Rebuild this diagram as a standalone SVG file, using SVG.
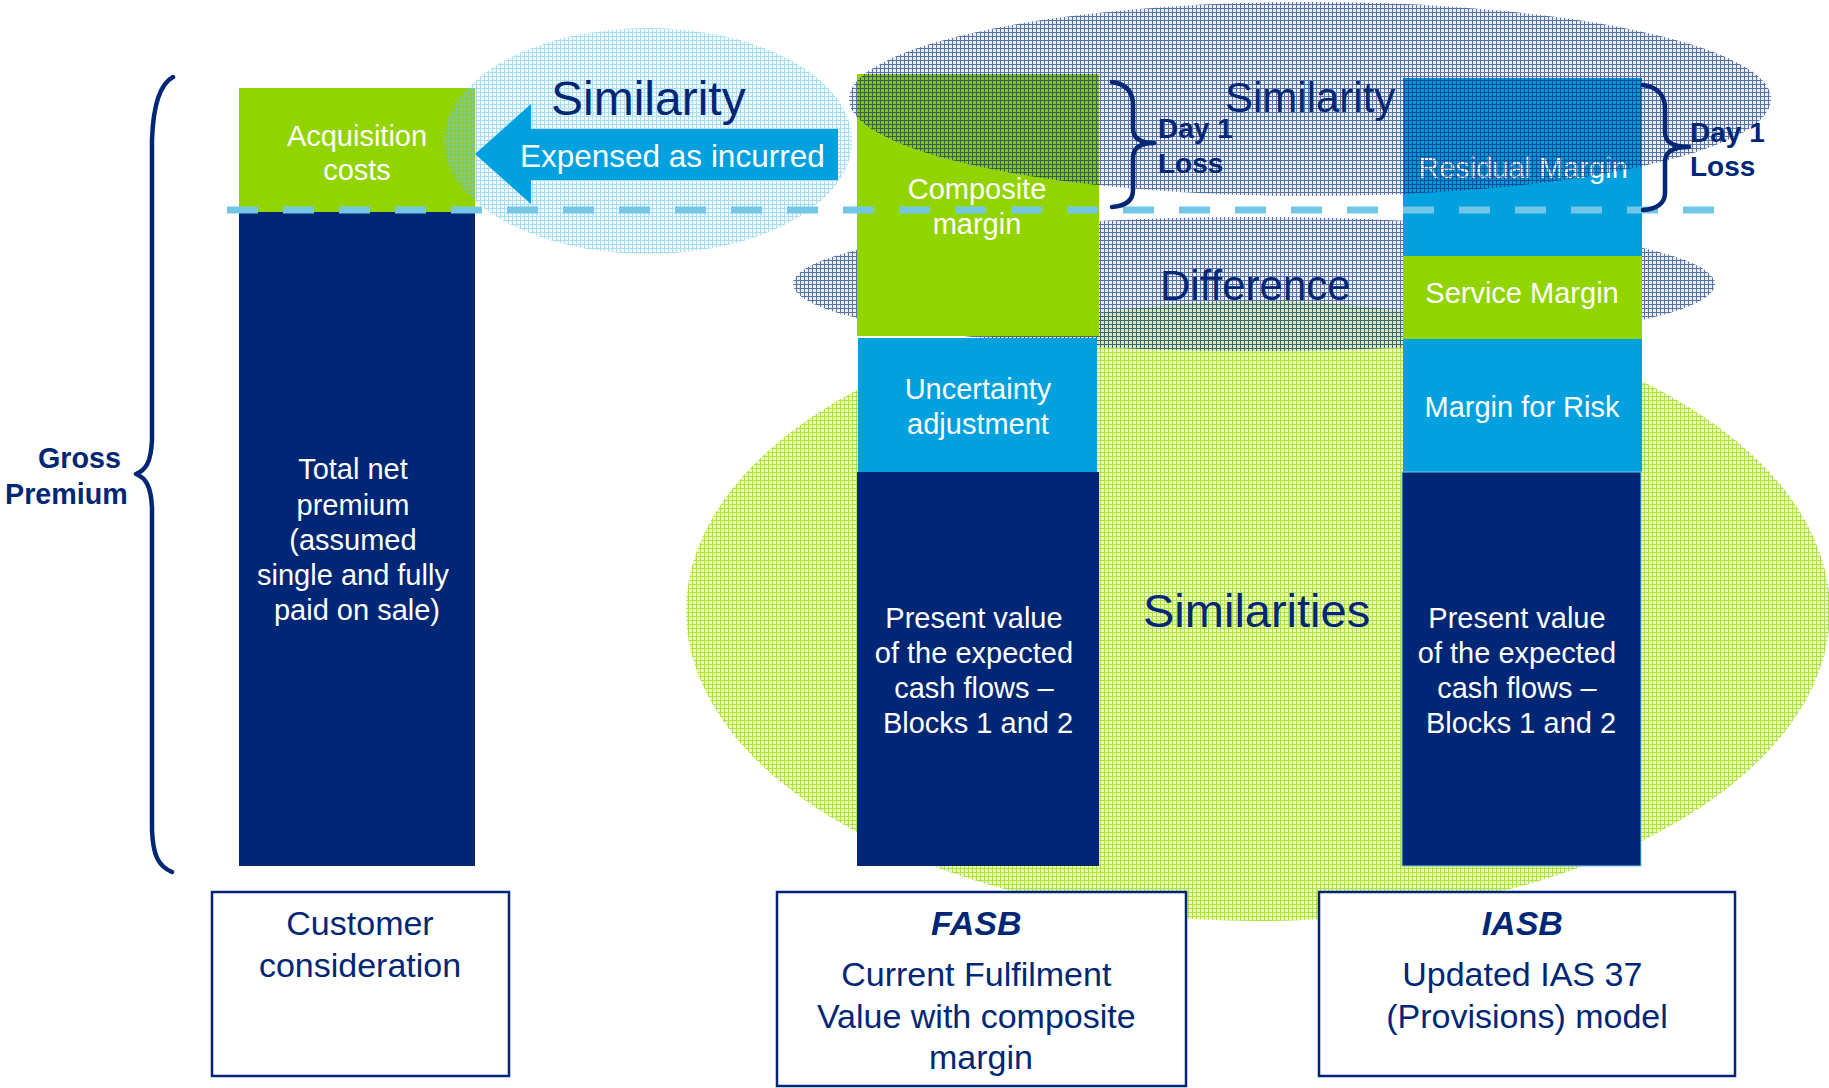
<svg xmlns="http://www.w3.org/2000/svg" width="1829" height="1088" viewBox="0 0 1829 1088">
  <defs>
    <style>
      text { font-family: "Liberation Sans", Arial, sans-serif; }
      .bt { font-size: 29px; fill: #ffffff; text-anchor: middle; }
      .lbl { fill: #002776; }
      .big { font-size: 48px; fill: #002776; }
      .mid { font-size: 42px; fill: #002776; }
      .loss { font-size: 28px; font-weight: bold; fill: #002776; }
      .cap { font-size: 34px; fill: #002776; text-anchor: middle; }
      .frame { fill: #ffffff; stroke: #002776; stroke-width: 2.5; }
      .brace { fill: none; stroke: #002776; stroke-width: 4.5; stroke-linecap: round; stroke-linejoin: round; }
      .navy { fill: #002776; }
      .green { fill: #92D400; }
      .blue { fill: #00A1DE; }
    </style>
    <!-- woven mesh fills for the comparison zones -->
    <pattern id="meshNavy" width="4" height="4" patternUnits="userSpaceOnUse">
      <rect width="4" height="4" fill="#002776" fill-opacity="0.08"/>
      <rect width="4" height="1" fill="#002776" fill-opacity="0.62"/>
      <rect y="1" width="1" height="3" fill="#002776" fill-opacity="0.62"/>
    </pattern>
    <pattern id="meshSky" width="4" height="4" patternUnits="userSpaceOnUse">
      <rect width="4" height="4" fill="#72C7E7" fill-opacity="0.1"/>
      <rect width="4" height="1" fill="#72C7E7" fill-opacity="0.55"/>
      <rect y="1" width="1" height="3" fill="#72C7E7" fill-opacity="0.55"/>
    </pattern>
    <pattern id="meshGreen" width="4" height="4" patternUnits="userSpaceOnUse">
      <rect width="4" height="4" fill="#92D400" fill-opacity="0.2"/>
      <rect width="4" height="1" fill="#92D400" fill-opacity="0.65"/>
      <rect y="1" width="1" height="3" fill="#92D400" fill-opacity="0.65"/>
    </pattern>
  </defs>

  <rect width="1829" height="1088" fill="#ffffff"/>

  <!-- zones lying behind the columns -->
  <g id="zone-similarities">
    <ellipse cx="1258" cy="611" rx="572" ry="310" fill="url(#meshGreen)"/>
  </g>
  <g id="zone-difference">
    <ellipse cx="1254" cy="284" rx="461" ry="67" fill="url(#meshNavy)"/>
  </g>

  <!-- customer column -->
  <g id="acquisition-costs">
    <rect class="green" x="239" y="88" width="236" height="125"/>
    <text class="bt"><tspan x="357" y="146">Acquisition</tspan><tspan x="357" y="180">costs</tspan></text>
  </g>
  <g id="total-net-premium">
    <rect class="navy" x="239" y="212" width="236" height="654"/>
    <text class="bt">
      <tspan x="357" y="479">Total net</tspan>
      <tspan x="357" y="515">premium</tspan>
      <tspan x="357" y="550">(assumed</tspan>
      <tspan x="357" y="585">single and fully</tspan>
      <tspan x="357" y="620">paid on sale)</tspan>
    </text>
  </g>

  <!-- FASB column -->
  <g id="composite-margin">
    <rect class="green" x="857" y="74" width="242" height="262"/>
    <text class="bt"><tspan x="977" y="199">Composite</tspan><tspan x="977" y="234">margin</tspan></text>
  </g>
  <g id="uncertainty-adjustment">
    <rect class="blue" x="858" y="338" width="239" height="134"/>
    <text class="bt"><tspan x="978" y="399">Uncertainty</tspan><tspan x="978" y="434">adjustment</tspan></text>
  </g>
  <g id="fasb-present-value">
    <rect class="navy" x="857" y="472" width="242" height="394"/>
    <text class="bt">
      <tspan x="978" y="628">Present value</tspan>
      <tspan x="978" y="663">of the expected</tspan>
      <tspan x="978" y="698">cash flows –</tspan>
      <tspan x="978" y="733">Blocks 1 and 2</tspan>
    </text>
  </g>

  <!-- IASB column -->
  <g id="residual-margin">
    <rect class="blue" x="1403" y="78" width="239" height="178"/>
    <text class="bt" x="1523" y="178">Residual Margin</text>
  </g>
  <g id="service-margin">
    <rect class="green" x="1403" y="256" width="239" height="83"/>
    <text class="bt" x="1522" y="303">Service Margin</text>
  </g>
  <g id="margin-for-risk">
    <rect class="blue" x="1403" y="339" width="239" height="133"/>
    <text class="bt" x="1522" y="417">Margin for Risk</text>
  </g>
  <g id="iasb-present-value">
    <rect class="navy" x="1402" y="472" width="239" height="394" stroke="#72C7E7" stroke-width="1"/>
    <text class="bt">
      <tspan x="1521" y="628">Present value</tspan>
      <tspan x="1521" y="663">of the expected</tspan>
      <tspan x="1521" y="698">cash flows –</tspan>
      <tspan x="1521" y="733">Blocks 1 and 2</tspan>
    </text>
  </g>

  <!-- zones laid over the columns -->
  <g id="zone-similarity-left">
    <ellipse cx="648" cy="141" rx="204" ry="113" fill="url(#meshSky)"/>
  </g>
  <g id="zone-similarity-top">
    <ellipse cx="1310" cy="99" rx="461" ry="97" fill="url(#meshNavy)"/>
  </g>

  <g id="connectors">
    <!-- expensed-as-incurred arrow -->
    <polygon class="blue" points="475,154 531,104 531,129 838,129 838,180 531,180 531,204"/>
    <!-- premium level -->
    <line x1="227" y1="210" x2="1715" y2="210" stroke="#72C7E7" stroke-width="7" stroke-dasharray="31 25"/>
    <!-- braces -->
    <path class="brace" d="M173,77 C158,85 153,110 152,140 L152,440 C151,462 146,470 136,474 C146,478 151,486 152,508 L152,830 C153,855 158,866 172,872"/>
    <path class="brace" d="M1112,82 C1126,84 1133,92 1133,105 L1133,128 C1133,138 1140,143 1154,143 C1140,143 1133,148 1133,158 L1133,190 C1133,200 1126,206 1112,207"/>
    <path class="brace" d="M1643,85 C1657,87 1665,95 1665,108 L1665,132 C1665,142 1672,147 1689,147 C1672,147 1665,152 1665,162 L1665,193 C1665,203 1657,209 1643,210"/>
  </g>

  <!-- zone and brace labels -->
  <g id="labels">
    <text style="font-size:31.5px;fill:#ffffff" x="520" y="167">Expensed as incurred</text>
    <text class="big" x="551" y="115">Similarity</text>
    <text class="mid" x="1225" y="112">Similarity</text>
    <text class="mid" x="1160" y="300">Difference</text>
    <text class="big" style="font-size:47px" x="1143" y="627">Similarities</text>
    <text class="loss"><tspan x="1158" y="138">Day 1</tspan><tspan x="1158" y="173">Loss</tspan></text>
    <text class="loss"><tspan x="1690" y="142">Day 1</tspan><tspan x="1690" y="176">Loss</tspan></text>
    <text class="loss" style="font-size:28.7px"><tspan x="38" y="468">Gross</tspan><tspan x="5" y="504">Premium</tspan></text>
  </g>

  <!-- captions -->
  <g id="caption-customer">
    <rect class="frame" x="212" y="892" width="297" height="184"/>
    <text class="cap"><tspan x="360" y="935">Customer</tspan><tspan x="360" y="977">consideration</tspan></text>
  </g>
  <g id="caption-fasb">
    <rect class="frame" x="777" y="892" width="409" height="194"/>
    <text class="cap">
      <tspan x="981" y="935" font-weight="bold" font-style="italic">FASB</tspan>
      <tspan x="981" y="986">Current Fulfilment</tspan>
      <tspan x="981" y="1028">Value with composite</tspan>
      <tspan x="981" y="1069">margin</tspan>
    </text>
  </g>
  <g id="caption-iasb">
    <rect class="frame" x="1319" y="892" width="416" height="184"/>
    <text class="cap">
      <tspan x="1527" y="935" font-weight="bold" font-style="italic">IASB</tspan>
      <tspan x="1527" y="986">Updated IAS 37</tspan>
      <tspan x="1527" y="1028">(Provisions) model</tspan>
    </text>
  </g>
</svg>
